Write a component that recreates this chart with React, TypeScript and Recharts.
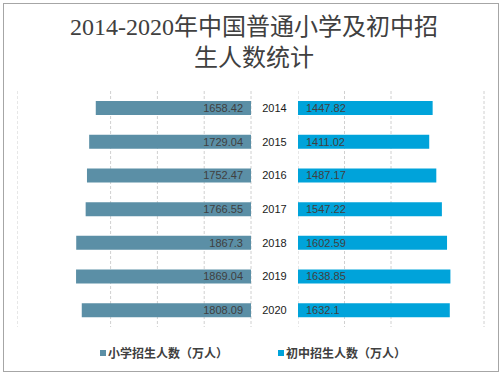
import React from "react";
import { BarChart, Bar, XAxis, YAxis, CartesianGrid, LabelList } from "recharts";

const years = ["2014", "2015", "2016", "2017", "2018", "2019", "2020"];
const primary = [1658.42, 1729.04, 1752.47, 1766.55, 1867.3, 1869.04, 1808.09];
const junior = [1447.82, 1411.02, 1487.17, 1547.22, 1602.59, 1638.85, 1632.1];
const leftTicks = [0, 500, 1000, 1500, 2000, 2500];
const rightTicks = [0, 500, 1000, 1500, 2000];

const seriesNames = ["小学招生人数（万人）", "初中招生人数（万人）"];
const colors = ["#5B8FA6", "#00A3DA"];

const data = years.map((y, i) => ({ year: y, primary: primary[i], junior: junior[i] }));

const labelStyle = { fill: "#404040", fontSize: 11, fontFamily: "Liberation Sans, Arial, sans-serif" };

function YearTick(props: any) {
  const { y, payload } = props;
  return (
    <text
      x={257.5}
      y={y}
      textAnchor="middle"
      dominantBaseline="central"
      fill="#1a1a1a"
      fontSize={11}
      fontFamily="Liberation Sans, Arial, sans-serif"
    >
      {payload.value}
    </text>
  );
}

export default function App() {
  return (
    <div style={{ position: "relative", width: 504, height: 376, background: "#fff", overflow: "hidden" }}>
      <style>{`body{margin:0}`}</style>
      <div
        style={{
          position: "absolute",
          left: 3,
          top: 3,
          width: 494,
          height: 367,
          border: "1px solid #A6A6A6",
        }}
      />
      <div
        style={{
          position: "absolute",
          left: 0,
          top: 12,
          width: 508,
          textAlign: "center",
          fontSize: 24,
          lineHeight: "31px",
          color: "#404040",
          fontFamily: "'Liberation Serif', 'Noto Sans CJK SC', serif",
        }}
      >
        2014-2020年中国普通小学及初中招
        <br />
        生人数统计
      </div>

      <div style={{ position: "absolute", left: 17, top: 91 }}>
        <BarChart
          width={281}
          height={236}
          data={data}
          layout="vertical"
          margin={{ top: 0, right: 0, bottom: 0, left: 0 }}
          barSize={14}
        >
          <CartesianGrid horizontal={false} stroke="#D0D0D0" strokeDasharray="3 2" />
          <XAxis type="number" domain={[0, 2500]} ticks={leftTicks} reversed hide />
          <YAxis
            type="category"
            dataKey="year"
            orientation="right"
            width={47}
            axisLine={false}
            tickLine={false}
            tick={<YearTick />}
          />
          <Bar dataKey="primary" fill={colors[0]} isAnimationActive={false}>
            <LabelList dataKey="primary" position="insideLeft" offset={8} style={labelStyle} />
          </Bar>
        </BarChart>
      </div>

      <div style={{ position: "absolute", left: 298, top: 91 }}>
        <BarChart
          width={188}
          height={236}
          data={data}
          layout="vertical"
          margin={{ top: 0, right: 2, bottom: 0, left: 0 }}
          barSize={14}
        >
          <CartesianGrid horizontal={false} stroke="#D0D0D0" strokeDasharray="3 2" />
          <XAxis type="number" domain={[0, 2000]} ticks={rightTicks} hide />
          <YAxis type="category" dataKey="year" hide />
          <Bar dataKey="junior" fill={colors[1]} isAnimationActive={false}>
            <LabelList dataKey="junior" position="insideLeft" offset={8} style={labelStyle} />
          </Bar>
        </BarChart>
      </div>

      <div
        style={{
          position: "absolute",
          top: 345,
          left: 100,
          display: "flex",
          fontSize: 12,
          lineHeight: "16px",
          color: "#404040",
          fontWeight: "bold",
          fontFamily: "'Noto Sans CJK SC', sans-serif",
        }}
      >
        {seriesNames.map((n, i) => (
          <div key={n} style={{ display: "flex", alignItems: "center", marginRight: i === 0 ? 50 : 0 }}>
            <span style={{ width: 6, height: 6, background: colors[i], marginRight: 2 }} />
            <span>{n}</span>
          </div>
        ))}
      </div>
    </div>
  );
}
